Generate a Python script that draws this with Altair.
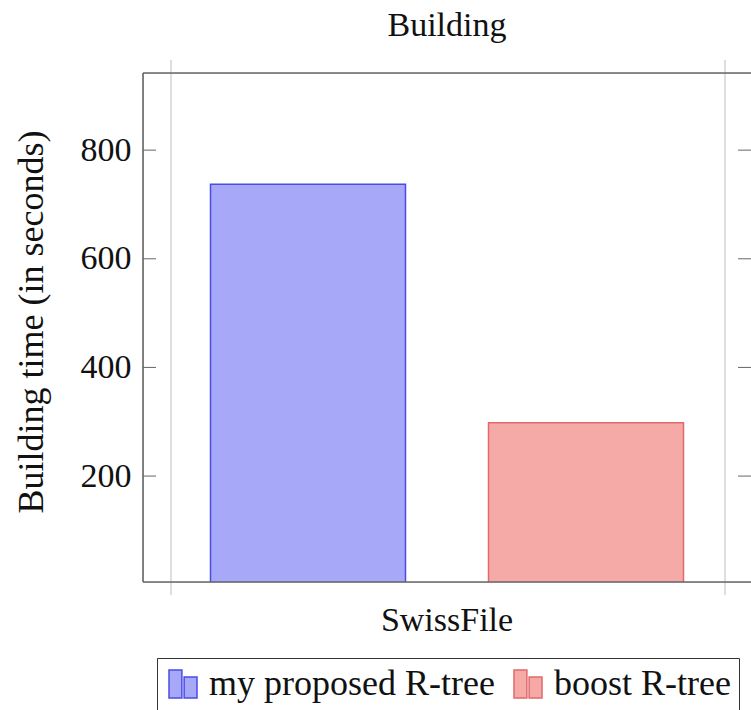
import altair as alt
import pandas as pd

# Data
categories = ["SwissFile"]
series = ["my proposed R-tree", "boost R-tree"]
build_seconds = [737, 298]
y_ticks = [200, 400, 600, 800]

fill_colors = ["#a8a8f8", "#f5aaa8"]
stroke_colors = ["#4b4be6", "#e06a6a"]

W, H = 608, 509
FONT = "Liberation Serif"
FS = 34
INK = "#111111"
FRAME = "#666666"

bars_df = pd.DataFrame({
    "dataset": categories * len(series),
    "method": series,
    "seconds": build_seconds,
})
ticks_df = pd.DataFrame({"seconds": y_ticks})
one_row = alt.Data(values=[{}])

y_scale = alt.Scale(domain=[5, 942], nice=False, zero=False)
y_axis = alt.Axis(
    values=y_ticks, ticks=False, domain=False, grid=False,
    labelFont=FONT, labelFontSize=FS, labelColor=INK, labelPadding=12,
    title="Building time (in seconds)", titleFont=FONT, titleFontSize=36,
    titleFontWeight="normal", titleColor=INK, titlePadding=30, titleY=H / 2 - 6,
)

# two-bar glyph used in the legend
legend_icon = "M-1,-1H-0.08V1H-1Z M0.08,-0.5H1V1H0.08Z"
legend = alt.Legend(
    title=None,
    orient="none",
    legendX=14,
    legendY=585,
    direction="horizontal",
    symbolType=legend_icon,
    symbolSize=784,
    symbolStrokeWidth=1.5,
    symbolOpacity=1,
    labelFont=FONT,
    labelFontSize=36,
    labelColor=INK,
    labelOffset=8,
    labelLimit=500,
    columnPadding=15,
    padding=8,
    strokeColor="#333333",
    fillColor="white",
)

bars = alt.Chart(bars_df).mark_bar(strokeWidth=1.5, clip=True).encode(
    x=alt.X(
        "dataset:N",
        scale=alt.Scale(paddingInner=0, paddingOuter=0),
        axis=alt.Axis(
            title=None, ticks=False, domain=False, grid=False, labelAngle=0,
            labelFont=FONT, labelFontSize=FS, labelColor=INK, labelPadding=21,
        ),
    ),
    xOffset=alt.XOffset(
        "method:N", sort=series,
        scale=alt.Scale(paddingInner=0.2986, paddingOuter=0.2428),
    ),
    y=alt.Y("seconds:Q", scale=y_scale, axis=y_axis),
    fill=alt.Fill("method:N", sort=series,
                  scale=alt.Scale(domain=series, range=fill_colors), legend=legend),
    stroke=alt.Stroke("method:N", sort=series,
                      scale=alt.Scale(domain=series, range=stroke_colors), legend=legend),
)

# inward tick marks on both sides of the frame
ticks_left = alt.Chart(ticks_df).mark_rule(color=FRAME, strokeWidth=1).encode(
    y=alt.Y("seconds:Q", scale=y_scale, axis=y_axis),
    x=alt.value(0), x2=alt.value(13),
)
ticks_right = alt.Chart(ticks_df).mark_rule(color=FRAME, strokeWidth=1).encode(
    y=alt.Y("seconds:Q", scale=y_scale, axis=y_axis),
    x=alt.value(W - 13), x2=alt.value(W),
)

# light vertical guides crossing the frame
guide_l = alt.Chart(one_row).mark_rule(color="#c8c8c8", strokeWidth=1.2).encode(
    x=alt.value(28), y=alt.value(-13), y2=alt.value(H + 13))
guide_r = alt.Chart(one_row).mark_rule(color="#c8c8c8", strokeWidth=1.2).encode(
    x=alt.value(W - 26), y=alt.value(-13), y2=alt.value(H + 13))

# frame (right edge lies beyond the visible area)
frame_top = alt.Chart(one_row).mark_rule(color=FRAME, strokeWidth=1.6).encode(
    x=alt.value(0), x2=alt.value(W), y=alt.value(0))
frame_bottom = alt.Chart(one_row).mark_rule(color=FRAME, strokeWidth=1.6).encode(
    x=alt.value(0), x2=alt.value(W), y=alt.value(H))
frame_left = alt.Chart(one_row).mark_rule(color=FRAME, strokeWidth=1.6).encode(
    x=alt.value(0), y=alt.value(0), y2=alt.value(H))

chart = alt.layer(
    guide_l, guide_r, bars, ticks_left, ticks_right, frame_top, frame_bottom, frame_left
).properties(
    width=W,
    height=H,
    title=alt.TitleParams(
        "Building", font=FONT, fontSize=FS, fontWeight="normal",
        color=INK, anchor="middle", offset=16,
    ),
    autosize=alt.AutoSizeParams(type="none"),
    padding={"left": 143, "top": 73, "right": 0, "bottom": 128},
).configure_view(stroke=None).configure(background="white")

chart.save("out.html", embed_options={"renderer": "svg", "actions": False})
